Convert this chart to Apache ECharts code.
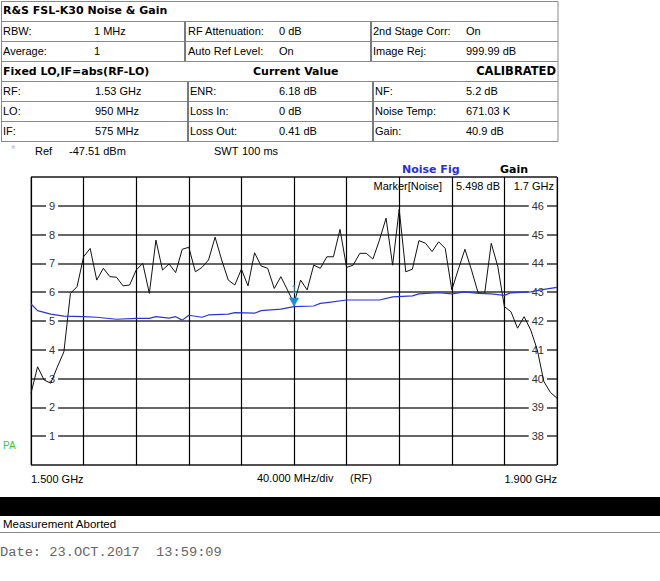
<!DOCTYPE html>
<html>
<head>
<meta charset="utf-8">
<script src="https://cdn.jsdelivr.net/npm/echarts@6/dist/echarts.min.js"></script>
<style>
  html, body { margin: 0; padding: 0; background: #fff; }
  #chart { width: 660px; height: 581px; }
</style>
</head>
<body>
<div id="chart"></div>
<script>
// gain trace (right axis), 5 MHz steps
const freqMHz = [
  1500, 1505, 1510, 1515, 1520, 1525, 1530, 1535, 1540, 1545,
  1550, 1555, 1560, 1565, 1570, 1575, 1580, 1585, 1590, 1595,
  1600, 1605, 1610, 1615, 1620, 1625, 1630, 1635, 1640, 1645,
  1650, 1655, 1660, 1665, 1670, 1675, 1680, 1685, 1690, 1695,
  1700, 1705, 1710, 1715, 1720, 1725, 1730, 1735, 1740, 1745,
  1750, 1755, 1760, 1765, 1770, 1775, 1780, 1785, 1790, 1795,
  1800, 1805, 1810, 1815, 1820, 1825, 1830, 1835, 1840, 1845,
  1850, 1855, 1860, 1865, 1870, 1875, 1880, 1885, 1890, 1895,
  1900
]
const gainDb = [
  39.49, 40.41, 39.95, 39.84, 40.40, 40.93, 42.96, 43.19, 44.23, 44.52,
  43.42, 43.83, 43.54, 43.52, 43.22, 43.25, 43.77, 44.00, 42.96, 44.81,
  43.77, 43.98, 43.68, 44.49, 44.56, 43.71, 43.86, 44.12, 44.91, 44.12,
  43.42, 43.25, 43.80, 43.22, 44.37, 43.91, 43.83, 43.13, 43.54, 43.08,
  42.61, 43.42, 43.08, 43.94, 43.83, 44.23, 44.23, 45.18, 43.86, 43.94,
  44.35, 44.35, 44.15, 44.81, 45.57, 43.94, 45.88, 43.71, 43.80, 44.79,
  44.70, 44.41, 44.75, 44.52, 43.08, 43.80, 44.49, 43.77, 42.98, 42.96,
  44.70, 43.89, 42.50, 42.32, 41.75, 42.15, 41.69, 41.00, 39.90, 39.52,
  39.32
]

// noise figure trace (left axis)
const nfFreqMHz = [
  1500, 1505, 1515, 1525, 1540, 1550, 1565, 1580, 1590, 1595,
  1605, 1610, 1615, 1620, 1630, 1635, 1650, 1655, 1670, 1675,
  1690, 1700, 1715, 1720, 1725, 1740, 1755, 1765, 1775, 1790,
  1795, 1810, 1820, 1830, 1840, 1850, 1860, 1865, 1880, 1890,
  1900
]
const noiseFigDb = [
  5.59, 5.36, 5.24, 5.17, 5.15, 5.13, 5.06, 5.09, 5.09, 5.15,
  5.10, 5.15, 5.03, 5.20, 5.13, 5.21, 5.24, 5.29, 5.27, 5.36,
  5.41, 5.50, 5.52, 5.61, 5.64, 5.73, 5.73, 5.73, 5.84, 5.87,
  5.94, 5.98, 5.94, 6.01, 5.96, 5.94, 5.89, 5.98, 6.01, 6.10,
  6.17
]

const markerFreq = 1700
const markerNF = 5.498

const nfRange = [0, 10]
const gainRange = [37, 47]
const spanMHz = [1500, 1900]
const divMHz = 40

// header table text: [x, y, text, bold]
const tableTexts = [
  [3, 10, 'R&S FSL-K30 Noise & Gain', true],
  [3, 31, 'RBW:'], [94, 31, '1 MHz'], [188, 31, 'RF Attenuation:'], [279, 31, '0 dB'],
  [373, 31, '2nd Stage Corr:'], [466, 31, 'On'],
  [3, 51, 'Average:'], [94, 51, '1'], [188, 51, 'Auto Ref Level:'], [279, 51, 'On'],
  [373, 51, 'Image Rej:'], [466, 51, '999.99 dB'],
  [3, 71, 'Fixed LO,IF=abs(RF-LO)', true], [253, 71, 'Current Value', true],
  [3, 91, 'RF:'], [95, 91, '1.53 GHz'], [190, 91, 'ENR:'], [279, 91, '6.18 dB'],
  [375, 91, 'NF:'], [466, 91, '5.2 dB'],
  [3, 111, 'LO:'], [95, 111, '950 MHz'], [190, 111, 'Loss In:'], [279, 111, '0 dB'],
  [375, 111, 'Noise Temp:'], [466, 111, '671.03 K'],
  [3, 131, 'IF:'], [95, 131, '575 MHz'], [190, 131, 'Loss Out:'], [279, 131, '0.41 dB'],
  [375, 131, 'Gain:'], [466, 131, '40.9 dB'],
  [35, 151, 'Ref'], [69, 151, '-47.51 dBm'], [214, 151, 'SWT'], [242, 151, '100 ms']
]
const tableRowLines = [1.5, 21.5, 41.5, 61.5, 81.5, 101.5, 121.5, 141.5]

const SANS = 'Liberation Sans, Arial, sans-serif'
const BOLD = 'bold 11px DejaVu Sans, Verdana, sans-serif'

function txt(x, y, text, font, fill, align) {
  return {
    type: 'text', x, y, silent: true,
    style: {
      text, font, fill: fill || '#000',
      textAlign: align || 'left', align: align || 'left',
      textVerticalAlign: 'middle', verticalAlign: 'middle'
    }
  }
}
function line(x1, y1, x2, y2, stroke, w) {
  return { type: 'line', silent: true, shape: { x1, y1, x2, y2 }, style: { stroke, lineWidth: w || 1 } }
}

const graphics = []
tableRowLines.forEach(y => graphics.push(line(1, y, 558, y, '#8a8a8a')))
graphics.push(line(1.5, 1.5, 1.5, 141.5, '#8a8a8a'))
graphics.push(line(558, 1.5, 558, 141.5, '#8a8a8a'))
graphics.push(line(185, 21.5, 185, 61.5, '#7a7a7a', 2))
graphics.push(line(371, 21.5, 371, 61.5, '#7a7a7a', 2))
graphics.push(line(188, 81.5, 188, 141.5, '#7a7a7a', 2))
graphics.push(line(373, 81.5, 373, 141.5, '#7a7a7a', 2))
tableTexts.forEach(t => graphics.push(txt(t[0], t[1], t[2], t[3] ? BOLD : '11px ' + SANS)))
graphics.push(txt(556, 71, 'CALIBRATED', 'bold 11.5px DejaVu Sans, Verdana, sans-serif', '#000', 'right'))
graphics.push(txt(11, 149, '*', '11px ' + SANS, '#bbbbbb'))

// plot header
graphics.push(txt(402, 169, 'Noise Fig', BOLD, '#2a2ee0'))
graphics.push(txt(500, 169, 'Gain', BOLD, '#000'))
graphics.push(txt(442, 186, 'Marker[Noise]', '11px ' + SANS, '#000', 'right'))
graphics.push(txt(500, 186, markerNF.toFixed(3) + ' dB', '11px ' + SANS, '#000', 'right'))
graphics.push(txt(554, 186, (markerFreq / 1000).toFixed(1) + ' GHz', '11px ' + SANS, '#000', 'right'))

// below plot
graphics.push(txt(257, 478, divMHz.toFixed(3) + ' MHz/div', '11px ' + SANS))
graphics.push(txt(350, 478, '(RF)', '11px ' + SANS))
graphics.push(txt(3, 445, 'PA', '10px ' + SANS, '#33cc33'))
graphics.push({ type: 'rect', silent: true, shape: { x: 0, y: 497, width: 660, height: 19 }, style: { fill: '#000' } })
graphics.push(txt(3, 524, 'Measurement Aborted', '11.5px ' + SANS))
graphics.push(line(0, 532.5, 660, 532.5, '#8a8a8a'))
graphics.push(txt(0, 552, 'Date: 23.OCT.2017  13:59:09', '13.7px Liberation Mono, Courier New, monospace', '#666'))

const chart = echarts.init(document.getElementById('chart'), null, { renderer: 'svg' })

chart.setOption({
  animation: false,
  backgroundColor: '#fff',
  textStyle: { fontFamily: SANS },
  grid: { left: 31, right: 103, top: 177, bottom: 116, show: true, borderColor: '#555', borderWidth: 1 },
  xAxis: {
    type: 'value',
    min: spanMHz[0], max: spanMHz[1], interval: divMHz,
    axisLine: { show: false }, axisTick: { show: false },
    splitLine: { show: true, lineStyle: { color: '#000', width: 1.2 } },
    axisLabel: {
      margin: 8, fontSize: 11, color: '#000',
      alignMinLabel: 'left', alignMaxLabel: 'right',
      formatter: v => (v === spanMHz[0] || v === spanMHz[1]) ? (v / 1000).toFixed(3) + ' GHz' : ''
    }
  },
  yAxis: [
    {
      type: 'value', position: 'left',
      min: nfRange[0], max: nfRange[1], interval: 1,
      axisLine: { show: false }, axisTick: { show: false },
      splitLine: { show: true, lineStyle: { color: '#333', width: 1.5 } },
      axisLabel: {
        inside: true, margin: 15, fontSize: 11, color: '#333',
        showMinLabel: false, showMaxLabel: false,
        backgroundColor: '#fff', padding: [0, 3]
      }
    },
    {
      type: 'value', position: 'right',
      min: gainRange[0], max: gainRange[1], interval: 1,
      axisLine: { show: false }, axisTick: { show: false },
      splitLine: { show: false },
      axisLabel: {
        inside: true, margin: 10, fontSize: 11, color: '#333',
        showMinLabel: false, showMaxLabel: false,
        backgroundColor: '#fff', padding: [0, 3]
      }
    }
  ],
  series: [
    {
      name: 'Gain', type: 'line', yAxisIndex: 1, symbol: 'none',
      data: freqMHz.map((f, i) => [f, gainDb[i]]),
      lineStyle: { color: '#111', width: 1 }
    },
    {
      name: 'Noise Fig', type: 'line', yAxisIndex: 0, symbol: 'none',
      data: nfFreqMHz.map((f, i) => [f, noiseFigDb[i]]),
      lineStyle: { color: '#2a36d8', width: 1.2 },
      markPoint: {
        silent: true,
        data: [
          {
            coord: [markerFreq, markerNF],
            symbol: 'path://M0,0L10,0L5,9Z', symbolSize: [10, 9], symbolOffset: [0, '-50%'],
            itemStyle: { color: '#1b8fd8' },
            label: { show: false }
          },
          {
            // marker number above the triangle
            coord: [markerFreq, markerNF],
            symbol: 'rect', symbolSize: [2, 2], symbolOffset: [0, -17],
            itemStyle: { color: 'rgba(0,0,0,0)' },
            label: {
              show: true, position: 'inside', formatter: '1',
              fontSize: 10, color: '#2aa0e0', fontFamily: SANS
            }
          }
        ]
      }
    }
  ],
  graphic: graphics
})
</script>
</body>
</html>
